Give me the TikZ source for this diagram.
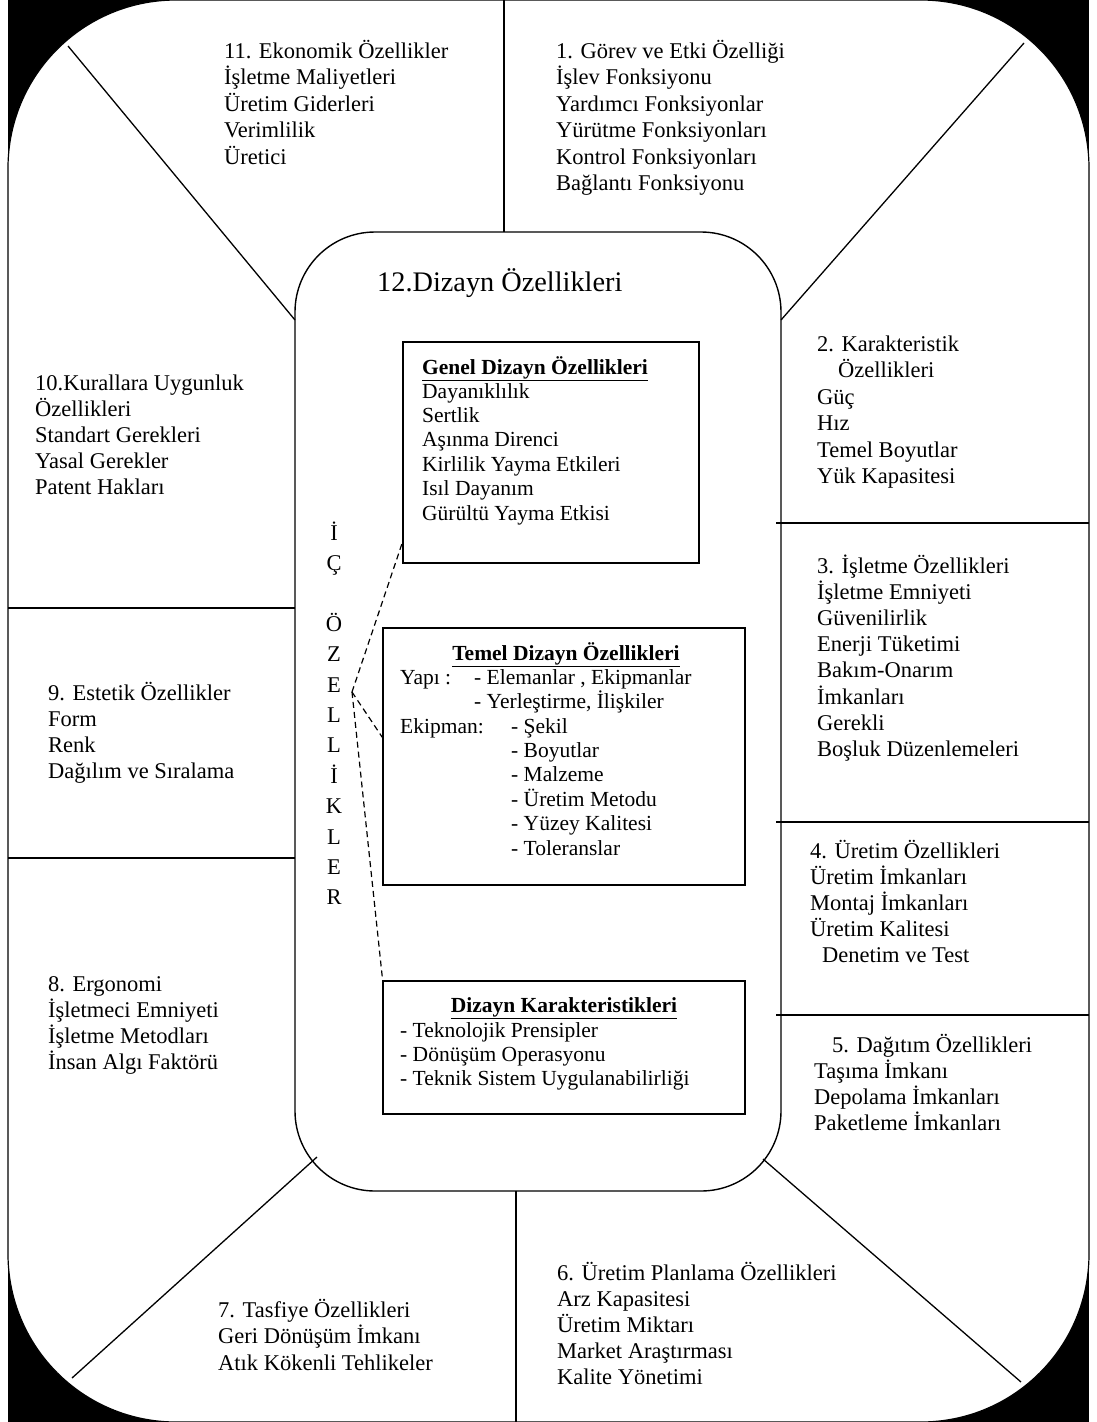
\documentclass[tikz,border=0pt]{standalone}
\usepackage{fontspec}
\setmainfont{Liberation Serif}
\newcommand{\tblock}[6]{% #1 style, #2 name, #3 x, #4 first baseline, #5 step, #6 lines
  \foreach \lineT [count=\kk] in {#6} {\node[#1] (#2-\kk) at (#3, {#4+(\kk-1)*#5}) {\lineT};}}
\begin{document}
\begin{tikzpicture}[x=1pt,y=-1pt,
  txt/.style={anchor=base west, inner sep=0pt, font=\fontsize{22.5}{26.5}\selectfont},
  btxt/.style={anchor=base west, inner sep=0pt, font=\fontsize{21.5}{24.4}\selectfont},
  btitle/.style={anchor=base, inner sep=0pt, font=\fontsize{21.5}{24.4}\selectfont\bfseries},
  vlet/.style={anchor=base, inner sep=0pt, font=\fontsize{22.5}{26.5}\selectfont},
  frame/.style={draw, line width=1.4pt, inner sep=0pt},
  spoke/.style={line width=1.3pt},
  link/.style={line width=1.2pt, dash pattern=on 6pt off 4pt}]
\useasboundingbox (0,0) rectangle (1096,1422);
% outer shape
\fill[black] (8,0) rectangle (1089,1422);
\draw[fill=white, line width=1.2pt, rounded corners=168pt] (8,0) rectangle (1089,1422);
% inner rounded region
\node[frame, rounded corners=80pt, minimum width=486pt, minimum height=959pt] (core) at (538,711.5) {};
% spokes
\coordinate (t0) at (504,0);   \coordinate (t1) at (504,232);
\coordinate (tl0) at (68,46);  \coordinate (tl1) at (295,320);
\coordinate (tr0) at (1024,43);\coordinate (tr1) at (781,320);
\coordinate (r1a) at (776,523); \coordinate (r1b) at (1089,523);
\coordinate (r2a) at (776,822); \coordinate (r2b) at (1089,822);
\coordinate (r3a) at (776,1015);\coordinate (r3b) at (1089,1015);
\coordinate (l1a) at (8,608);  \coordinate (l1b) at (295,608);
\coordinate (l2a) at (8,858);  \coordinate (l2b) at (295,858);
\coordinate (bl0) at (72,1378);\coordinate (bl1) at (317,1157);
\coordinate (br0) at (1021,1382);\coordinate (br1) at (763,1159);
\coordinate (b0) at (516,1191);\coordinate (b1) at (516,1422);
\draw[spoke] (t0) -- (t1);
\draw[spoke] (tl0) -- (tl1);
\draw[spoke] (tr0) -- (tr1);
\draw[spoke] (r1a) -- (r1b);
\draw[spoke] (r2a) -- (r2b);
\draw[spoke] (r3a) -- (r3b);
\draw[spoke] (l1a) -- (l1b);
\draw[spoke] (l2a) -- (l2b);
\draw[spoke] (bl0) -- (bl1);
\draw[spoke] (br0) -- (br1);
\draw[spoke] (b0) -- (b1);
% outer texts
\tblock{txt}{f11}{224}{58}{26.5}{11. Ekonomik Özellikler,İşletme Maliyetleri,Üretim Giderleri,Verimlilik,Üretici}
\tblock{txt}{f1}{556}{58}{26.5}{1. Görev ve Etki Özelliği,İşlev Fonksiyonu,Yardımcı Fonksiyonlar,Yürütme Fonksiyonları,Kontrol Fonksiyonları,Bağlantı Fonksiyonu}
\tblock{txt}{f2}{817}{351}{26.5}{2. Karakteristik,\hspace*{21pt}Özellikleri,Güç,Hız,Temel Boyutlar,Yük Kapasitesi}
\tblock{txt}{f3}{817}{573}{26.2}{3. İşletme Özellikleri,İşletme Emniyeti,Güvenilirlik,Enerji Tüketimi,Bakım-Onarım,İmkanları,Gerekli,Boşluk Düzenlemeleri}
\tblock{txt}{f4}{810}{858}{26.2}{4. Üretim Özellikleri,Üretim İmkanları,Montaj İmkanları,Üretim Kalitesi,\hspace*{12pt}Denetim ve Test}
\tblock{txt}{f5}{814}{1052}{26.3}{\hspace*{18pt}5. Dağıtım Özellikleri,Taşıma İmkanı,Depolama İmkanları,Paketleme İmkanları}
\tblock{txt}{f6}{557}{1280}{26.2}{6. Üretim Planlama Özellikleri,Arz Kapasitesi,Üretim Miktarı,Market Araştırması,Kalite Yönetimi}
\tblock{txt}{f7}{218}{1317}{26.5}{7. Tasfiye Özellikleri,Geri Dönüşüm İmkanı,Atık Kökenli Tehlikeler}
\tblock{txt}{f8}{48}{991}{26.3}{8. Ergonomi,İşletmeci Emniyeti,İşletme Metodları,İnsan Algı Faktörü}
\tblock{txt}{f9}{48}{700}{26.3}{9. Estetik Özellikler,Form,Renk,Dağılım ve Sıralama}
\tblock{txt}{f10}{35}{390}{26.2}{10.Kurallara Uygunluk,Özellikleri,Standart Gerekleri,Yasal Gerekler,Patent Hakları}
% inner title
\node[anchor=base west, inner sep=0pt, font=\fontsize{28.3}{32}\selectfont] (f12) at (377,291) {12.Dizayn Özellikleri};
% vertical label
\tblock{vlet}{icA}{334}{540}{30.4}{İ,Ç}
\tblock{vlet}{icB}{334}{631.2}{30.4}{Ö,Z,E,L,L,İ,K,L,E,R}
% boxes
\node[frame, minimum width=296pt, minimum height=221pt] (genel) at (551,452.5) {};
\node[frame, minimum width=362pt, minimum height=257pt] (temel) at (564,756.5) {};
\node[frame, minimum width=362pt, minimum height=133pt] (kar) at (564,1047.5) {};
% box texts
\node[btitle, anchor=base west] (gt) at (422,374) {\underline{Genel Dizayn Özellikleri}};
\tblock{btxt}{gl}{422}{398}{24.4}{Dayanıklılık,Sertlik,Aşınma Direnci,Kirlilik Yayma Etkileri,Isıl Dayanım,Gürültü Yayma Etkisi}
\node[btitle] (tt) at (566,660) {\underline{Temel Dizayn Özellikleri}};
\node[btxt] (ty) at (400,684) {Yapı :};
\tblock{btxt}{tyl}{474}{684}{24.4}{{- Elemanlar , Ekipmanlar},{- Yerleştirme, İlişkiler}}
\node[btxt] (te) at (400,733) {Ekipman:};
\tblock{btxt}{tel}{511}{733}{24.4}{- Şekil,- Boyutlar,- Malzeme,- Üretim Metodu,- Yüzey Kalitesi,- Toleranslar}
\node[btitle] (kt) at (564,1012) {\underline{Dizayn Karakteristikleri}};
\tblock{btxt}{kl}{400}{1037}{24.4}{- Teknolojik Prensipler,- Dönüşüm Operasyonu,- Teknik Sistem Uygulanabilirliği}
% dashed links
\coordinate (ep) at (352,692);
\draw[link] (ep) -- ([yshift=21pt]genel.south west);
\draw[link] (ep) -- ([yshift=-110pt]temel.north west);
\draw[link] (ep) -- ([yshift=3pt]kar.north west);
\end{tikzpicture}
\end{document}
